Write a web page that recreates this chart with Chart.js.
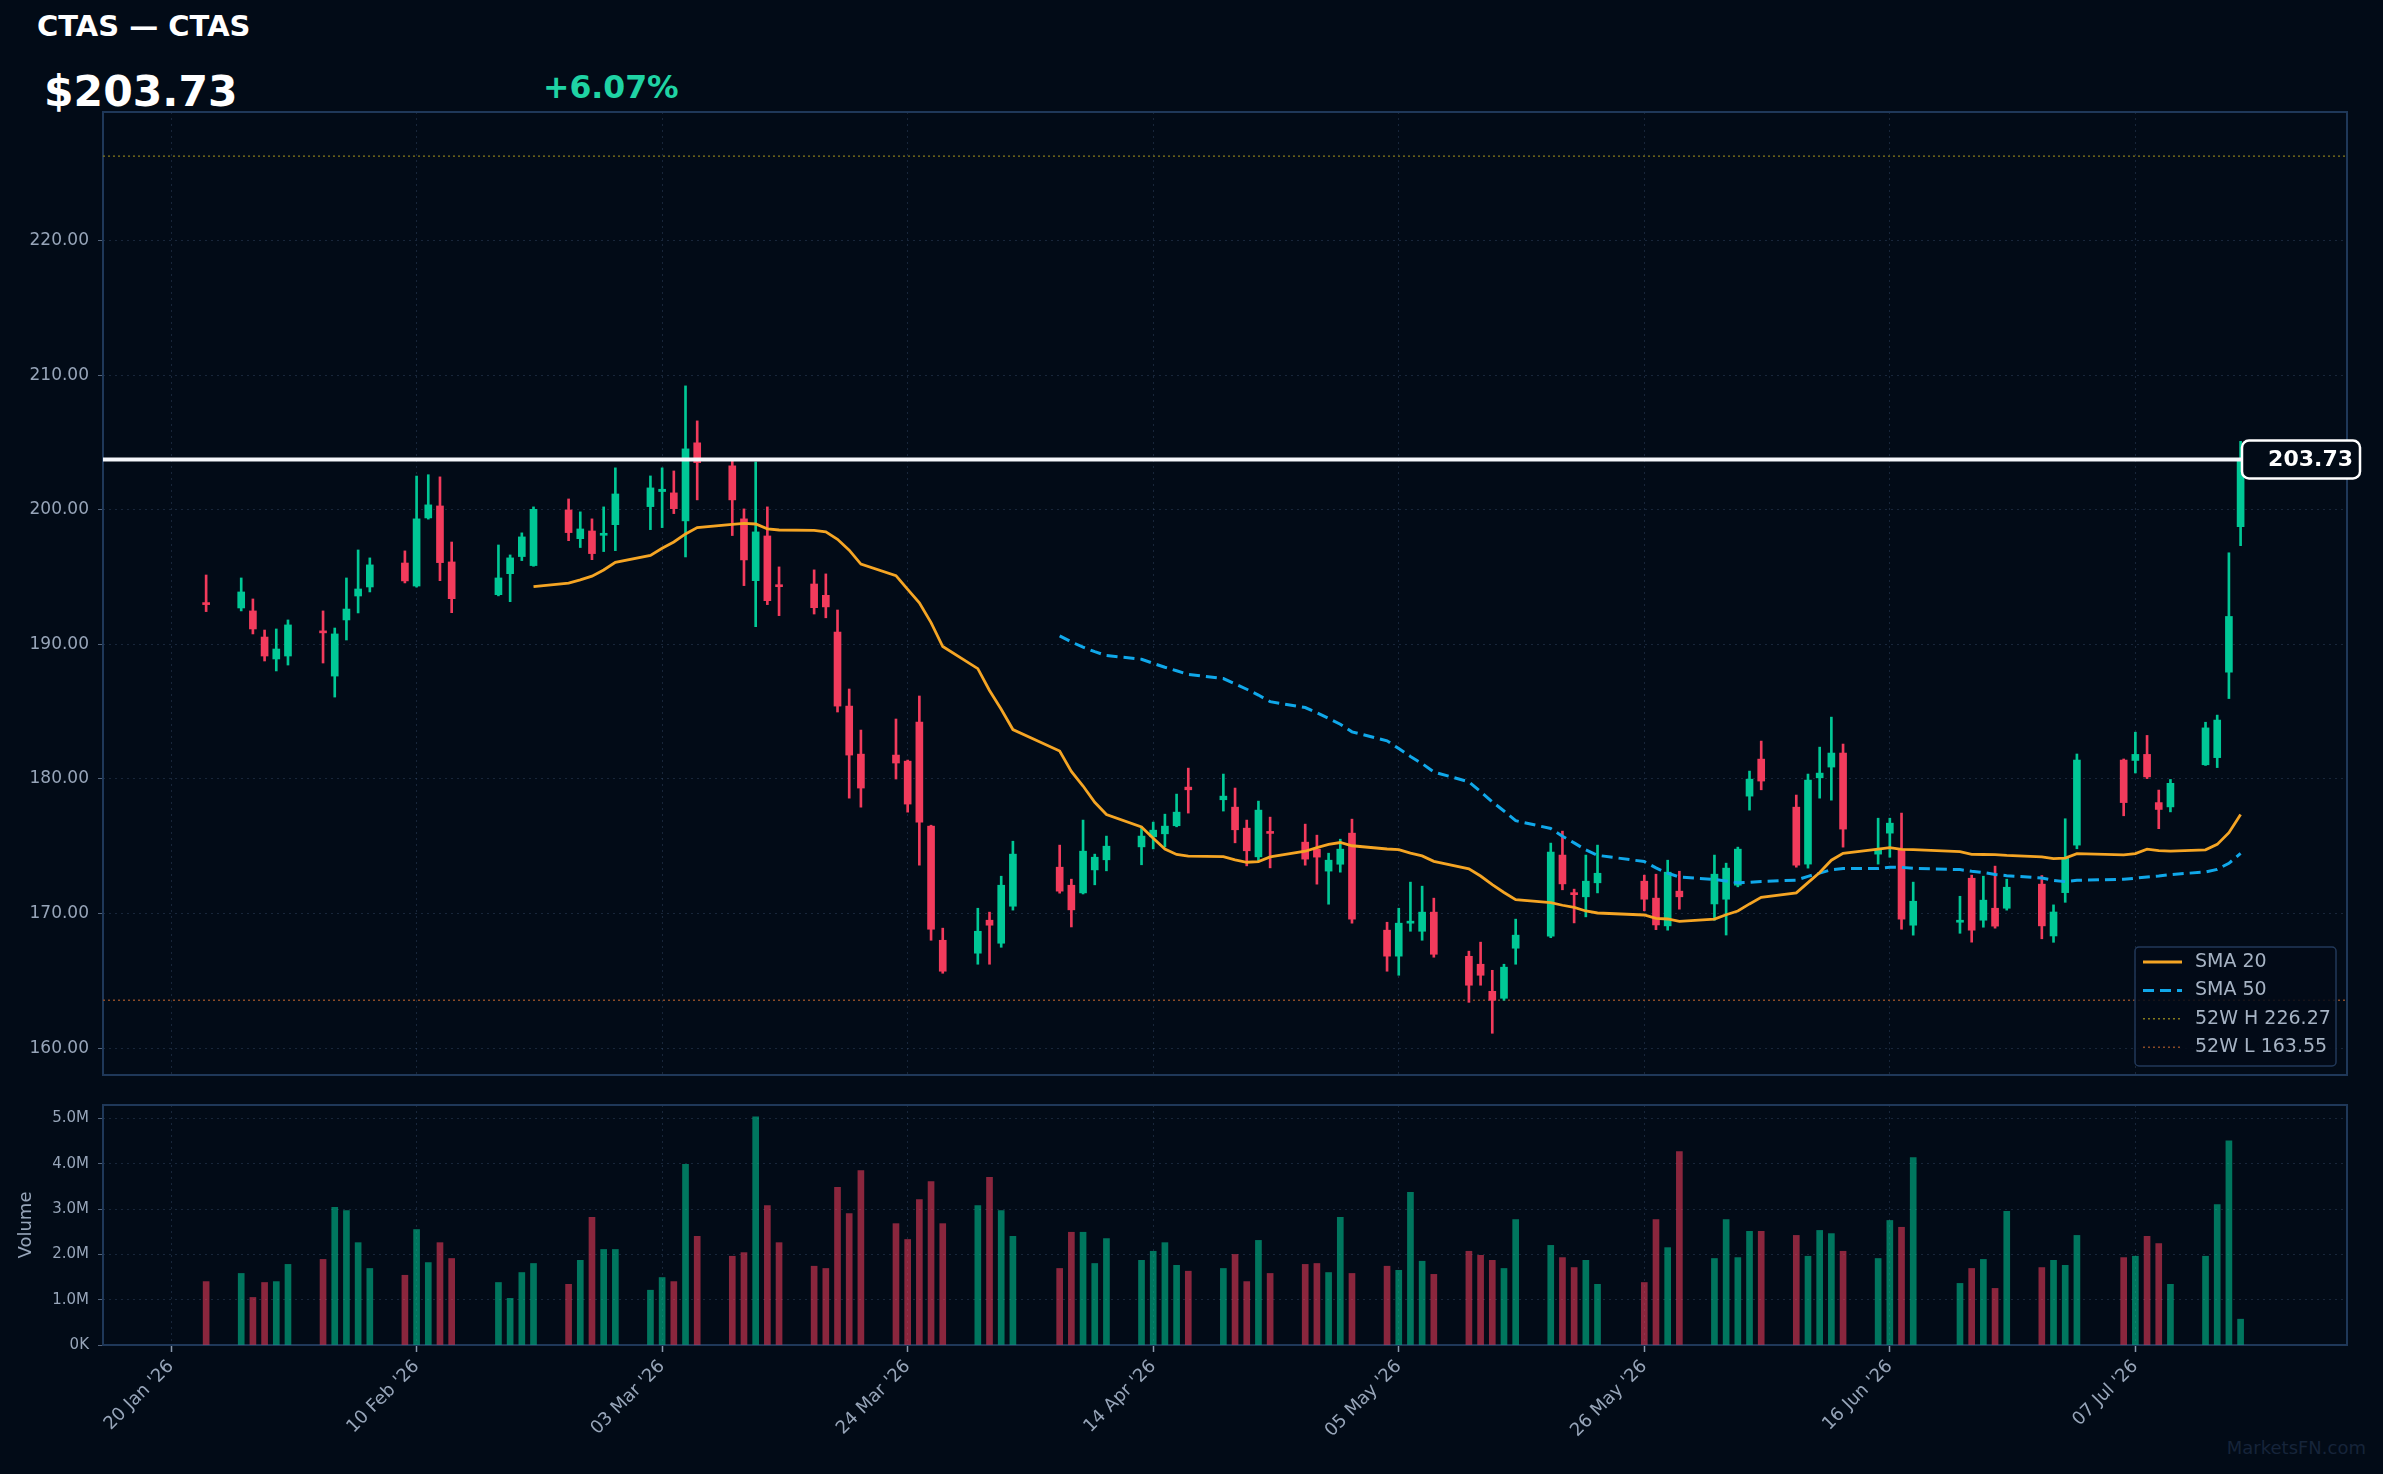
<!DOCTYPE html>
<html>
<head>
<meta charset="utf-8">
<script src="https://cdn.jsdelivr.net/npm/chart.js@4.4.1/dist/chart.umd.min.js"></script>
<style>
  html, body { margin: 0; padding: 0; background: #020b17; }
  body { width: 2383px; height: 1474px; position: relative; overflow: hidden; font-family: 'DejaVu Sans', sans-serif; }
  canvas { position: absolute; left: 0; }
  #priceCanvas { top: 0; }
  #volCanvas { top: 1090px; }
  .hdr { position: absolute; font-weight: bold; white-space: nowrap; line-height: 1; }
</style>
</head>
<body>
<div class="hdr" style="left:37px; top:12px; font-size:29px; color:#ffffff;">CTAS — CTAS</div>
<div class="hdr" style="left:44px; top:71px; font-size:42.5px; color:#ffffff;">$203.73</div>
<div class="hdr" style="left:543px; top:72px; font-size:31.5px; color:#1fd3a4;">+6.07%</div>
<div class="hdr" style="right:17px; top:1439px; font-size:18px; font-weight:normal; color:#16243a;">MarketsFN.com</div>
<canvas id="priceCanvas" width="2383" height="1090"></canvas>
<canvas id="volCanvas" width="2383" height="384"></canvas>
<script>
// daily candles
const dates = [
  '2026-01-23',
  '2026-01-26','2026-01-27','2026-01-28','2026-01-29','2026-01-30',
  '2026-02-02','2026-02-03','2026-02-04','2026-02-05','2026-02-06',
  '2026-02-09','2026-02-10','2026-02-11','2026-02-12','2026-02-13',
  '2026-02-17','2026-02-18','2026-02-19','2026-02-20',
  '2026-02-23','2026-02-24','2026-02-25','2026-02-26','2026-02-27',
  '2026-03-02','2026-03-03','2026-03-04','2026-03-05','2026-03-06',
  '2026-03-09','2026-03-10','2026-03-11','2026-03-12','2026-03-13',
  '2026-03-16','2026-03-17','2026-03-18','2026-03-19','2026-03-20',
  '2026-03-23','2026-03-24','2026-03-25','2026-03-26','2026-03-27',
  '2026-03-30','2026-03-31','2026-04-01','2026-04-02',
  '2026-04-06','2026-04-07','2026-04-08','2026-04-09','2026-04-10',
  '2026-04-13','2026-04-14','2026-04-15','2026-04-16','2026-04-17',
  '2026-04-20','2026-04-21','2026-04-22','2026-04-23','2026-04-24',
  '2026-04-27','2026-04-28','2026-04-29','2026-04-30','2026-05-01',
  '2026-05-04','2026-05-05','2026-05-06','2026-05-07','2026-05-08',
  '2026-05-11','2026-05-12','2026-05-13','2026-05-14','2026-05-15',
  '2026-05-18','2026-05-19','2026-05-20','2026-05-21','2026-05-22',
  '2026-05-26','2026-05-27','2026-05-28','2026-05-29',
  '2026-06-01','2026-06-02','2026-06-03','2026-06-04','2026-06-05',
  '2026-06-08','2026-06-09','2026-06-10','2026-06-11','2026-06-12',
  '2026-06-15','2026-06-16','2026-06-17','2026-06-18',
  '2026-06-22','2026-06-23','2026-06-24','2026-06-25','2026-06-26',
  '2026-06-29','2026-06-30','2026-07-01','2026-07-02',
  '2026-07-06','2026-07-07','2026-07-08','2026-07-09','2026-07-10',
  '2026-07-13','2026-07-14','2026-07-15','2026-07-16'
];
const opens = [
  193.10,
  192.70, 192.48, 190.54, 188.91, 189.13,
  190.99, 187.64, 191.81, 193.59, 194.26,
  196.04, 194.33, 199.39, 200.28, 196.12,
  193.69, 195.25, 196.52, 195.85,
  199.98, 197.85, 198.42, 198.10, 198.89,
  200.23, 201.35, 201.25, 199.17, 204.97,
  203.26, 199.32, 194.73, 198.05, 194.38,
  194.48, 193.64, 190.91, 185.41, 181.84,
  181.77, 181.32, 184.22, 176.49, 168.01,
  167.05, 169.50, 167.79, 170.54,
  173.44, 172.10, 171.53, 173.24, 173.99,
  174.95, 175.70, 175.92, 176.52, 179.39,
  178.45, 177.90, 176.34, 174.21, 176.09,
  175.30, 174.78, 173.15, 173.66, 175.97,
  168.76, 166.83, 169.28, 168.68, 170.10,
  166.82, 166.23, 164.22, 163.70, 167.42,
  168.31, 174.34, 171.45, 171.24, 172.28,
  172.40, 171.14, 169.08, 171.66,
  170.71, 171.06, 172.10, 178.72, 181.47,
  177.90, 173.67, 180.08, 180.88, 181.92,
  174.41, 175.97, 174.78, 169.13,
  169.35, 172.62, 169.50, 170.39, 170.39,
  172.18, 168.33, 171.55, 175.08,
  181.40, 181.37, 181.82, 178.24, 177.92,
  181.05, 181.58, 187.93, 198.74
];
const highs = [
  195.15,
  194.93, 193.37, 191.06, 191.14, 191.81,
  192.48, 191.21, 194.93, 197.01, 196.42,
  196.94, 202.50, 202.60, 202.44, 197.60,
  197.38, 196.64, 198.28, 200.21,
  200.80, 199.84, 199.32, 200.21, 203.11,
  202.51, 203.11, 202.88, 209.20, 206.60,
  203.70, 200.06, 203.55, 200.21, 195.75,
  195.53, 195.23, 192.55, 186.68, 183.63,
  184.45, 181.40, 186.16, 176.56, 168.91,
  170.39, 170.10, 172.77, 175.37,
  175.08, 172.55, 176.94, 174.41, 175.75,
  176.44, 176.79, 177.38, 178.87, 180.80,
  180.36, 179.32, 176.94, 178.35, 177.16,
  176.64, 175.82, 174.48, 175.52, 177.01,
  169.35, 170.39, 172.33, 172.03, 171.14,
  167.20, 167.87, 165.78, 166.23, 169.58,
  175.23, 176.12, 171.81, 174.34, 175.08,
  172.85, 172.92, 173.96, 173.14,
  174.34, 173.74, 174.93, 180.58, 182.81,
  178.80, 180.36, 182.36, 184.59, 182.59,
  177.08, 177.08, 177.46, 172.33,
  171.28, 172.85, 172.77, 173.52, 172.55,
  172.82, 170.64, 177.04, 181.85,
  181.48, 183.47, 183.23, 179.17, 179.96,
  184.21, 184.74, 196.80, 205.08
];
const lows = [
  192.43,
  192.48, 190.77, 188.76, 188.02, 188.46,
  188.61, 186.08, 190.32, 192.33, 193.89,
  194.56, 194.25, 199.30, 194.73, 192.35,
  193.60, 193.17, 196.22, 195.80,
  197.70, 197.19, 196.29, 196.89, 196.96,
  198.52, 198.67, 199.71, 196.49, 200.73,
  198.08, 194.36, 191.31, 192.95, 192.13,
  192.25, 191.97, 184.97, 178.57, 177.90,
  179.99, 177.53, 173.59, 168.01, 165.56,
  166.23, 166.23, 167.49, 170.25,
  171.51, 169.00, 171.45, 172.13, 173.17,
  173.62, 174.80, 174.95, 176.44, 177.46,
  177.61, 175.25, 173.54, 173.91, 173.39,
  173.59, 172.18, 170.69, 173.07, 169.28,
  165.71, 165.41, 168.68, 168.01, 166.75,
  163.40, 164.67, 161.10, 163.55, 166.23,
  168.20, 171.76, 169.30, 169.75, 171.53,
  170.20, 168.80, 168.76, 170.32,
  169.50, 168.40, 171.98, 177.68, 179.19,
  173.44, 173.37, 178.57, 178.42, 174.93,
  173.67, 174.18, 168.83, 168.39,
  168.53, 167.87, 168.98, 168.91, 170.25,
  168.12, 167.86, 170.83, 174.81,
  177.26, 180.44, 180.02, 176.30, 177.55,
  181.00, 180.84, 185.97, 197.33
];
const closes = [
  192.95,
  193.89, 191.14, 189.13, 189.65, 191.44,
  190.85, 190.77, 192.62, 194.11, 195.90,
  194.71, 199.32, 200.36, 196.07, 193.39,
  194.93, 196.42, 197.98, 200.03,
  198.30, 198.57, 196.74, 198.25, 201.17,
  201.62, 201.52, 200.08, 204.52, 203.50,
  200.73, 196.27, 198.35, 193.24, 194.28,
  192.72, 192.78, 185.41, 181.77, 179.32,
  181.18, 178.13, 176.79, 168.83, 165.71,
  168.68, 169.13, 172.10, 174.41,
  171.66, 170.27, 174.63, 174.18, 175.00,
  175.75, 176.19, 176.49, 177.53, 179.19,
  178.72, 176.22, 174.66, 177.68, 175.95,
  174.04, 174.19, 173.96, 174.78, 169.58,
  166.83, 169.28, 169.43, 170.10, 166.97,
  164.67, 165.41, 163.55, 166.01, 168.39,
  174.56, 172.20, 171.40, 172.40, 172.99,
  171.06, 169.15, 173.07, 171.24,
  172.92, 173.37, 174.78, 179.98, 179.84,
  173.59, 179.91, 180.43, 181.92, 176.27,
  174.71, 176.71, 169.58, 170.91,
  169.50, 168.76, 170.99, 169.06, 171.95,
  169.08, 170.11, 174.15, 181.40,
  178.24, 181.82, 180.15, 177.73, 179.67,
  183.79, 184.37, 192.07, 203.73
];
// volume in millions of shares
const volumes = [
  1.40,
  1.58, 1.05, 1.38, 1.40, 1.78,
  1.89, 3.04, 2.97, 2.26, 1.69,
  1.54, 2.55, 1.82, 2.26, 1.91,
  1.38, 1.03, 1.60, 1.80,
  1.34, 1.87, 2.82, 2.11, 2.11,
  1.21, 1.49, 1.40, 3.99, 2.40,
  1.96, 2.04, 5.04, 3.08, 2.26,
  1.74, 1.69, 3.48, 2.90, 3.85,
  2.68, 2.33, 3.21, 3.61, 2.68,
  3.08, 3.70, 2.97, 2.40,
  1.69, 2.49, 2.49, 1.80, 2.35,
  1.87, 2.07, 2.26, 1.76, 1.63,
  1.69, 2.00, 1.40, 2.31, 1.58,
  1.78, 1.80, 1.60, 2.82, 1.58,
  1.74, 1.65, 3.37, 1.85, 1.56,
  2.07, 1.98, 1.87, 1.69, 2.77,
  2.20, 1.93, 1.71, 1.87, 1.34,
  1.38, 2.77, 2.15, 4.27,
  1.91, 2.77, 1.93, 2.51, 2.51,
  2.42, 1.96, 2.53, 2.46, 2.07,
  1.91, 2.75, 2.60, 4.14,
  1.36, 1.69, 1.89, 1.25, 2.95,
  1.71, 1.87, 1.76, 2.42,
  1.93, 1.96, 2.40, 2.24, 1.34,
  1.96, 3.10, 4.51, 0.57
];

const tickDates = ['2026-01-20', '2026-02-10', '2026-03-03', '2026-03-24', '2026-04-14',
                   '2026-05-05', '2026-05-26', '2026-06-16', '2026-07-07'];
const tickLabels = ["20 Jan '26", "10 Feb '26", "03 Mar '26", "24 Mar '26", "14 Apr '26",
                    "05 May '26", "26 May '26", "16 Jun '26", "07 Jul '26"];
const priceTicks = [160, 170, 180, 190, 200, 210, 220];
const volumeTicks = [0, 1, 2, 3, 4, 5];
const high52 = 226.27;
const low52 = 163.55;

const UP = '#00c896';
const DOWN = '#f23b5c';
const UP_VOL = 'rgba(0, 200, 150, 0.57)';
const DOWN_VOL = 'rgba(242, 59, 92, 0.57)';
const BG = '#020b17';
const GRID = 'rgba(70, 95, 130, 0.33)';
const FRAME = '#1f3859';
const TICK = '#97a5b9';

Chart.defaults.font.family = "'DejaVu Sans', sans-serif";

// day number counted from the first axis tick
const dayOf = s => (Date.parse(s) - Date.parse(tickDates[0])) / 86400000;
const xs = dates.map(dayOf);
const tickX = tickDates.map(dayOf);
const X_MIN = -5.82, X_MAX = 186.1;
const isUp = closes.map((c, i) => c >= opens[i]);
const lastClose = closes[closes.length - 1];

function sma(n) {
  const out = [];
  for (let i = n - 1; i < closes.length; i++) {
    let s = 0;
    for (let j = i - n + 1; j <= i; j++) s += closes[j];
    out.push({ x: xs[i], y: s / n });
  }
  return out;
}

const candleColor = ctx => isUp[ctx.dataIndex] ? UP : DOWN;

// keep the y axis from pushing the plot area around
const fixY = s => { s.width = 103; s.paddingTop = 0; s.paddingBottom = 0; };

// outline round the plot
const framePlugin = {
  id: 'frame',
  beforeDatasetsDraw(chart) {
    const a = chart.chartArea, c = chart.ctx;
    c.save();
    c.strokeStyle = FRAME;
    c.lineWidth = 2;
    c.strokeRect(a.left, a.top, a.right - a.left, a.bottom - a.top);
    c.restore();
  }
};

// last price line and its tag
const lastPricePlugin = {
  id: 'lastPrice',
  afterDatasetsDraw(chart) {
    const a = chart.chartArea, c = chart.ctx;
    const y = chart.scales.y.getPixelForValue(lastClose);
    c.save();
    c.strokeStyle = '#f4f6fa';
    c.lineWidth = 4;
    c.beginPath();
    c.moveTo(a.left, y);
    c.lineTo(a.right, y);
    c.stroke();
    c.beginPath();
    c.roundRect(a.right - 105, y - 19, 118, 38, 7);
    c.fillStyle = BG;
    c.fill();
    c.lineWidth = 2.5;
    c.strokeStyle = '#ffffff';
    c.stroke();
    c.fillStyle = '#ffffff';
    c.font = "bold 22px 'DejaVu Sans'";
    c.textAlign = 'right';
    c.textBaseline = 'middle';
    c.fillText(lastClose.toFixed(2), a.right + 6, y + 1);
    c.restore();
  }
};

// legend box in the lower right corner
const legendPlugin = {
  id: 'boxLegend',
  afterDraw(chart) {
    const a = chart.chartArea, c = chart.ctx;
    const items = chart.data.datasets.filter(d => d.label);
    const bx = a.right - 212, by = a.bottom - 128, bw = 201, bh = 119;
    c.save();
    c.beginPath();
    c.roundRect(bx, by, bw, bh, 4);
    c.fillStyle = 'rgba(2, 11, 23, 0.85)';
    c.fill();
    c.lineWidth = 1.5;
    c.strokeStyle = '#22395a';
    c.stroke();
    c.font = "19px 'DejaVu Sans'";
    c.textBaseline = 'middle';
    c.textAlign = 'left';
    items.forEach((d, i) => {
      const y = by + 15 + i * 28.4;
      c.beginPath();
      c.setLineDash(d.borderDash || []);
      c.strokeStyle = d.borderColor;
      c.lineWidth = d.borderWidth;
      c.moveTo(bx + 8, y);
      c.lineTo(bx + 47, y);
      c.stroke();
      c.setLineDash([]);
      c.fillStyle = '#a6b3c4';
      c.fillText(d.label, bx + 60, y);
    });
    c.restore();
  }
};

new Chart(document.getElementById('priceCanvas'), {
  type: 'bar',
  data: {
    datasets: [
      {
        type: 'line', label: 'SMA 20', data: sma(20),
        borderColor: '#f5a524', borderWidth: 2.8, pointRadius: 0, tension: 0, order: 1
      },
      {
        type: 'line', label: 'SMA 50', data: sma(50),
        borderColor: '#10a8ea', borderWidth: 3, borderDash: [11, 6], pointRadius: 0, tension: 0, order: 2
      },
      {
        type: 'line', label: '52W H ' + high52.toFixed(2),
        data: [{ x: X_MIN, y: high52 }, { x: X_MAX, y: high52 }],
        borderColor: '#857a1c', borderWidth: 1.4, borderDash: [2, 3], pointRadius: 0, order: 6
      },
      {
        type: 'line', label: '52W L ' + low52.toFixed(2),
        data: [{ x: X_MIN, y: low52 }, { x: X_MAX, y: low52 }],
        borderColor: '#8a4a26', borderWidth: 1.4, borderDash: [2, 3], pointRadius: 0, order: 6
      },
      {
        // wicks
        data: xs.map((x, i) => ({ x: x, y: [lows[i], highs[i]] })),
        backgroundColor: candleColor, borderWidth: 0,
        barThickness: 2, grouped: false, order: 4
      },
      {
        // bodies
        data: xs.map((x, i) => ({ x: x, y: [opens[i], closes[i]] })),
        backgroundColor: candleColor, borderWidth: 0, minBarLength: 2,
        barThickness: 7, grouped: false, order: 3
      }
    ]
  },
  options: {
    responsive: false,
    animation: false,
    events: [],
    layout: { padding: { top: 112, right: 36, bottom: 15, left: 0 } },
    plugins: { legend: { display: false }, tooltip: { enabled: false } },
    scales: {
      x: {
        type: 'linear', min: X_MIN, max: X_MAX, offset: false,
        grid: { color: GRID, lineWidth: 1, drawTicks: false, offset: false },
        border: { display: false, dash: [2, 4] },
        ticks: { display: false },
        afterBuildTicks: s => { s.ticks = tickX.map(v => ({ value: v })); },
        afterFit: s => { s.height = 0; s.paddingLeft = 0; s.paddingRight = 0; }
      },
      y: {
        min: 158.0, max: 229.55,
        grid: { color: GRID, lineWidth: 1, tickLength: 5, tickColor: '#55657c' },
        border: { display: false, dash: [2, 4] },
        ticks: { color: TICK, font: { size: 17 }, padding: 9, callback: v => v.toFixed(2) },
        afterBuildTicks: s => { s.ticks = priceTicks.map(v => ({ value: v })); },
        afterFit: fixY
      }
    }
  },
  plugins: [framePlugin, lastPricePlugin, legendPlugin]
});

new Chart(document.getElementById('volCanvas'), {
  type: 'bar',
  data: {
    datasets: [{
      data: xs.map((x, i) => ({ x: x, y: volumes[i] })),
      backgroundColor: ctx => isUp[ctx.dataIndex] ? UP_VOL : DOWN_VOL,
      borderWidth: 0, barThickness: 6, grouped: false
    }]
  },
  options: {
    responsive: false,
    animation: false,
    events: [],
    layout: { padding: { top: 15, right: 36, bottom: 0, left: 0 } },
    plugins: { legend: { display: false }, tooltip: { enabled: false } },
    scales: {
      x: {
        type: 'linear', min: X_MIN, max: X_MAX, offset: false,
        grid: { color: GRID, lineWidth: 1, tickLength: 7, tickColor: '#8a99ad', tickWidth: 1.5, offset: false },
        border: { display: false, dash: [2, 4] },
        ticks: {
          color: TICK, font: { size: 18 }, minRotation: 45, maxRotation: 45, autoSkip: false, padding: 4,
          callback: (v, i) => tickLabels[i]
        },
        afterBuildTicks: s => { s.ticks = tickX.map(v => ({ value: v })); },
        afterFit: s => { s.height = 129; s.paddingLeft = 0; s.paddingRight = 0; }
      },
      y: {
        min: 0, max: 5.3,
        grid: { color: GRID, lineWidth: 1, tickLength: 5, tickColor: '#55657c' },
        border: { display: false, dash: [2, 4] },
        ticks: { color: TICK, font: { size: 15 }, padding: 9, callback: v => v === 0 ? '0K' : v.toFixed(1) + 'M' },
        title: { display: true, text: 'Volume', color: TICK, font: { size: 18 }, padding: { top: 16, bottom: 0 } },
        afterBuildTicks: s => { s.ticks = volumeTicks.map(v => ({ value: v })); },
        afterFit: fixY
      }
    }
  },
  plugins: [framePlugin]
});
</script>
</body>
</html>
